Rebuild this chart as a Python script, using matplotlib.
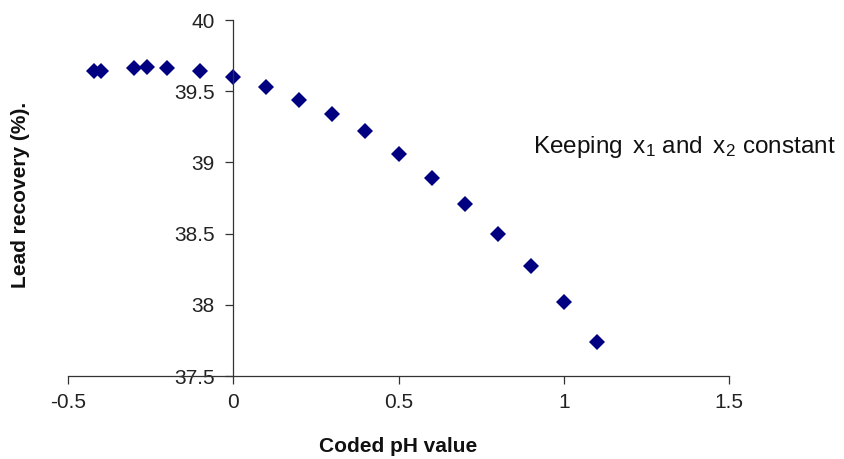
import matplotlib
matplotlib.use("Agg")
import matplotlib.pyplot as plt

plt.rcParams['font.family'] = ['Liberation Sans', 'DejaVu Sans']
plt.rcParams['mathtext.fontset'] = 'custom'
plt.rcParams['mathtext.rm'] = 'Liberation Sans'

# coded pH vs lead recovery (x1, x2 held constant)
ph_coded = [-0.42, -0.40, -0.30, -0.26, -0.20, -0.10, 0.0, 0.1, 0.2, 0.3,
            0.4, 0.5, 0.6, 0.7, 0.8, 0.9, 1.0, 1.1]
recovery = [39.64, 39.64, 39.66, 39.67, 39.66, 39.64, 39.60, 39.53, 39.44,
            39.34, 39.22, 39.06, 38.89, 38.71, 38.50, 38.27, 38.02, 37.74]

x_ticks = [-0.5, 0, 0.5, 1, 1.5]
x_ticklabels = ['-0.5', '0', '0.5', '1', '1.5']
y_ticks = [37.5, 38, 38.5, 39, 39.5, 40]
y_ticklabels = ['37.5', '38', '38.5', '39', '39.5', '40']

fig = plt.figure(figsize=(8.44, 4.59), dpi=100)
ax = fig.add_axes([68/844, 1 - 376/459, 661/844, 356/459])

ax.plot(ph_coded, recovery, linestyle='none', marker='D', markersize=8.5,
        color='#000080', markeredgewidth=0)

ax.set_xlim(-0.5, 1.5)
ax.set_ylim(37.5, 40)
ax.set_xticks(x_ticks)
ax.set_xticklabels(x_ticklabels)
ax.set_yticks(y_ticks)
ax.set_yticklabels(y_ticklabels)

# y axis crosses at x = 0, like the Excel original
ax.spines['left'].set_position(('data', 0))
ax.spines['top'].set_visible(False)
ax.spines['right'].set_visible(False)
for s in ('left', 'bottom'):
    ax.spines[s].set_color('#333333')
    ax.spines[s].set_linewidth(0.9)

ax.tick_params(axis='both', direction='out', length=5.5, width=0.9,
               color='#333333', labelsize=15, labelcolor='#222222')
ax.tick_params(axis='y', pad=8)
ax.tick_params(axis='x', pad=7)

fig.text(398/844, 1 - 447/459, 'Coded pH value', ha='center', va='center',
         fontsize=15, fontweight='bold', color='#111111')
fig.text(21/844, 1 - 195/459, 'Lead recovery (%).', ha='center', va='center',
         rotation=90, fontsize=15, fontweight='bold', color='#111111')

fig.text(533/844, 1 - 153/459,
         r'Keeping $\mathregular{\,x_1}$ and $\mathregular{\,x_2}$ constant',
         ha='left', va='baseline', fontsize=17.5, color='#111111')

fig.savefig('out.png', dpi=100)
plt.close(fig)
